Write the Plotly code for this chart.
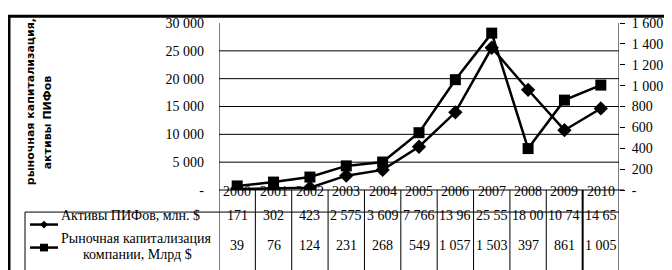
import plotly.graph_objects as go

years = [2000, 2001, 2002, 2003, 2004, 2005, 2006, 2007, 2008, 2009, 2010]
assets = [171, 302, 423, 2575, 3609, 7766, 13960, 25550, 18000, 10740, 14650]
mcap = [39, 76, 124, 231, 268, 549, 1057, 1503, 397, 861, 1005]
assets_cells = ["171", "302", "423", "2 575", "3 609", "7 766", "13 96", "25 55", "18 00", "10 74", "14 65"]
mcap_cells = ["39", "76", "124", "231", "268", "549", "1 057", "1 503", "397", "861", "1 005"]
left_ticks = [0, 5000, 10000, 15000, 20000, 25000, 30000]
left_text = ["-", "5 000", "10 000", "15 000", "20 000", "25 000", "30 000"]
right_ticks = [0, 200, 400, 600, 800, 1000, 1200, 1400, 1600]
right_text = ["-", "200", "400", "600", "800", "1 000", "1 200", "1 400", "1 600"]
name_assets = "Активы ПИФов, млн. $"
name_mcap1 = "Рыночная капитализация"
name_mcap2 = "компании, Млрд $"
y_title1 = "рыночная капитализация,"
y_title2 = "активы ПИФов"

W, H = 672, 270
L, R, T, B = 211, 611, 8, 182
SERIF = "Liberation Serif"


def px(x):
    return (x - L) / (R - L)


def py(y):
    return (B - y) / (B - T)


fig = go.Figure()
fig.add_trace(go.Scatter(x=years, y=assets, mode="lines+markers", name=name_assets,
                         line=dict(color="black", width=2.5),
                         marker=dict(symbol="diamond", size=11, color="black"),
                         yaxis="y", showlegend=False))
fig.add_trace(go.Scatter(x=years, y=mcap, mode="lines+markers", name=name_mcap1,
                         line=dict(color="black", width=2.5),
                         marker=dict(symbol="square", size=11, color="black"),
                         yaxis="y2", showlegend=False))

shapes = []
line = dict(color="black", width=1)
# horizontal gridlines (inner ticks only)
for v in left_ticks[1:-1]:
    shapes.append(dict(type="line", xref="paper", yref="y", x0=0, x1=1, y0=v, y1=v, line=line, layer="below"))
# table horizontal line below year row
shapes.append(dict(type="line", xref="paper", yref="paper", x0=px(17), x1=px(611), y0=py(205), y1=py(205), line=line))
# left legend column border
shapes.append(dict(type="line", xref="paper", yref="paper", x0=px(17), x1=px(17), y0=py(205), y1=py(268), line=line))
# column separators
for i in range(len(years) + 1):
    xv = years[0] - 0.5 + i
    w = 2 if i == len(years) - 1 else 1
    y_top = T if i in (0, len(years)) else B
    shapes.append(dict(type="line", xref="x", yref="paper", x0=xv, x1=xv, y0=py(y_top), y1=py(268),
                       line=dict(color="black", width=w)))
# x axis line
shapes.append(dict(type="line", xref="paper", yref="paper", x0=0, x1=px(616), y0=0, y1=0, line=line))
# outer border
shapes.append(dict(type="rect", xref="paper", yref="paper", x0=px(1), x1=px(671), y0=py(1), y1=py(269),
                   line=dict(color="black", width=3)))
# legend keys
for ky, sym in ((218, "diamond"), (242, "square")):
    shapes.append(dict(type="line", xref="paper", yref="paper", x0=px(22), x1=px(50), y0=py(ky), y1=py(ky),
                       line=dict(color="black", width=2.5)))
    cx, cy = 36, ky
    if sym == "diamond":
        path = f"M {px(cx-4)},{py(cy)} L {px(cx)},{py(cy-4)} L {px(cx+4)},{py(cy)} L {px(cx)},{py(cy+4)} Z"
    else:
        path = f"M {px(cx-4)},{py(cy-4)} L {px(cx+4)},{py(cy-4)} L {px(cx+4)},{py(cy+4)} L {px(cx-4)},{py(cy+4)} Z"
    shapes.append(dict(type="path", xref="paper", yref="paper", path=path, fillcolor="black",
                       line=dict(color="black", width=0)))

F = dict(family=SERIF, size=14, color="black")
ann = []
for yr, a, m in zip(years, assets_cells, mcap_cells):
    ann.append(dict(x=yr, y=py(193), xref="x", yref="paper", text=str(yr), showarrow=False, font=F))
    ann.append(dict(x=yr, y=py(218), xref="x", yref="paper", text=a, showarrow=False, font=F))
    ann.append(dict(x=yr, y=py(250), xref="x", yref="paper", text=m, showarrow=False, font=F))
ann.append(dict(x=px(51), y=py(218), xref="paper", yref="paper", xanchor="left", text=name_assets,
                showarrow=False, font=F))
ann.append(dict(x=px(51), y=py(242), xref="paper", yref="paper", xanchor="left", text=name_mcap1,
                showarrow=False, font=F))
ann.append(dict(x=px(129), y=py(259), xref="paper", yref="paper", xanchor="center", text=name_mcap2,
                showarrow=False, font=F))
ann.append(dict(x=px(14), y=py(90), xref="paper", yref="paper", text="<b>" + y_title1 + "</b>", textangle=-90,
                showarrow=False, font=dict(family="DejaVu Sans", size=11, color="black")))
ann.append(dict(x=px(31), y=py(112), xref="paper", yref="paper", text="<b>" + y_title2 + "</b>", textangle=-90,
                showarrow=False, font=dict(family="DejaVu Sans", size=11, color="black")))

fig.update_layout(
    width=W, height=H,
    margin=dict(l=L, r=W - R, t=T, b=H - B, pad=0),
    paper_bgcolor="white", plot_bgcolor="white",
    xaxis=dict(range=[years[0] - 0.5, years[-1] + 0.5], showticklabels=False, showgrid=False,
               zeroline=False, showline=False, ticks=""),
    yaxis=dict(range=[0, 30000], tickvals=left_ticks, ticktext=left_text, showgrid=False,
               zeroline=False, showline=False, ticks="",
               ticklabelstandoff=14, tickfont=F),
    yaxis2=dict(range=[0, 1600], overlaying="y", side="right", tickvals=right_ticks, ticktext=right_text,
                showgrid=False, zeroline=False, showline=False, ticks="outside", ticklen=5,
                tickcolor="black", ticklabelstandoff=4, tickfont=F),
    shapes=shapes, annotations=ann,
)
fig.write_html("out.html")
